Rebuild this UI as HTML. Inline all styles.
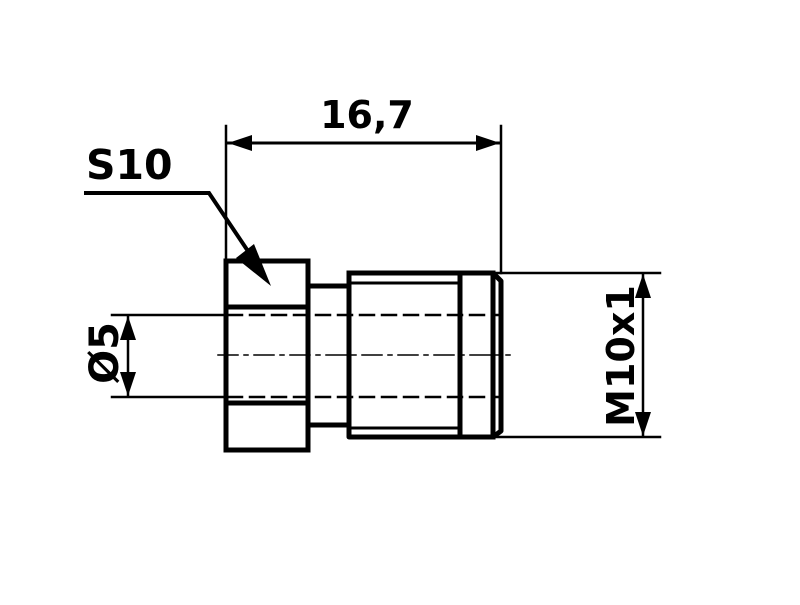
<!DOCTYPE html>
<html><head><style>html,body{margin:0;padding:0;background:#fff}</style></head>
<body>
<svg width="800" height="600" viewBox="0 0 800 600" xmlns="http://www.w3.org/2000/svg">
<rect width="800" height="600" fill="#fff"/>
<g stroke="#000" fill="none" stroke-linecap="square">
<line x1="226" y1="126" x2="226" y2="261" stroke-width="2.5"/>
<line x1="501" y1="126" x2="501" y2="273" stroke-width="2.5"/>
<line x1="228" y1="143" x2="500" y2="143" stroke-width="3"/>
<line x1="495" y1="273" x2="660" y2="273" stroke-width="2.5"/>
<line x1="495" y1="437" x2="660" y2="437" stroke-width="2.5"/>
<line x1="643" y1="275" x2="643" y2="435" stroke-width="2.5"/>
<line x1="112" y1="315" x2="226" y2="315" stroke-width="2.5"/>
<line x1="112" y1="397" x2="226" y2="397" stroke-width="2.5"/>
<line x1="128" y1="317" x2="128" y2="395" stroke-width="2.5"/>
<polyline points="86,193 209,193 262,272" stroke-width="4"/>
<rect x="226" y="261" width="82" height="189" stroke-width="5"/>
<line x1="226" y1="307" x2="308" y2="307" stroke-width="5"/>
<line x1="226" y1="403" x2="308" y2="403" stroke-width="5"/>
<line x1="308" y1="286" x2="349" y2="286" stroke-width="5"/>
<line x1="308" y1="425" x2="349" y2="425" stroke-width="5"/>
<polyline points="349,273 493,273 501,281 501,431 493,437 349,437 349,273" stroke-width="5" stroke-linejoin="round"/>
<line x1="493" y1="273" x2="493" y2="437" stroke-width="5"/>
<line x1="460" y1="273" x2="460" y2="437" stroke-width="5"/>
<line x1="349" y1="283" x2="460" y2="283" stroke-width="3"/>
<line x1="349" y1="428" x2="460" y2="428" stroke-width="3"/>
<line x1="228" y1="315" x2="500" y2="315" stroke-width="2.5" stroke-dasharray="14,8"/>
<line x1="228" y1="397" x2="500" y2="397" stroke-width="2.5" stroke-dasharray="14,8"/>
<line x1="218" y1="355" x2="510" y2="355" stroke-width="1.5" stroke-dasharray="20,6,4,6"/>
</g>
<g fill="#000">
<polygon points="228,143 252,135 252,151"/>
<polygon points="500,143 476,135 476,151"/>
<polygon points="643,274 635,298 651,298"/>
<polygon points="643,436 635,412 651,412"/>
<polygon points="128,316 120,340 136,340"/>
<polygon points="128,396 120,372 136,372"/>
<polygon points="271,286 236,258 254,244"/>
</g>
<g font-family="'DejaVu Sans', 'Liberation Sans', sans-serif" font-weight="bold" fill="#000">
<text x="367" y="128" font-size="38" text-anchor="middle">16,7</text>
<text x="86" y="179" font-size="41">S10</text>
<text x="0" y="0" font-size="40" text-anchor="middle" transform="translate(118,353) rotate(-90)">Ø5</text>
<text x="0" y="0" font-size="38" text-anchor="middle" transform="translate(634,356) rotate(-90)">M10x1</text>
</g>
</svg>
</body></html>
